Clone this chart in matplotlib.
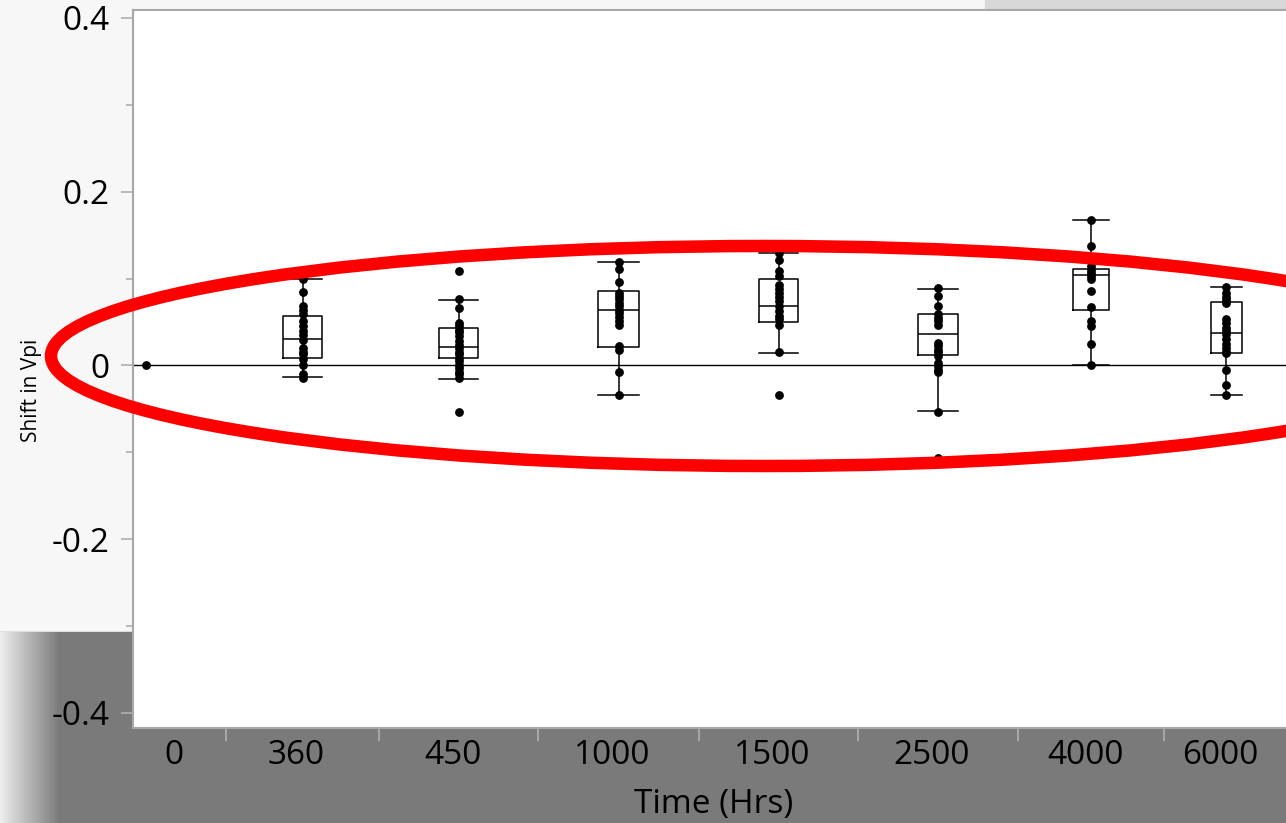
import numpy as np
import matplotlib
matplotlib.use("Agg")
import matplotlib.pyplot as plt
import matplotlib.transforms as mtrans
from matplotlib.patches import Ellipse, Rectangle

plt.rcParams['font.family'] = ['Open Sans', 'DejaVu Sans']

# data
times = ["0", "360", "450", "1000", "1500", "2500", "4000", "6000"]

pts_0 = [0.0]
pts_360 = [0.100, 0.085, 0.068, 0.064, 0.059, 0.051, 0.045, 0.040, 0.035, 0.029,
           0.020, 0.016, 0.013, 0.007, 0.001, -0.010, -0.014]
pts_450 = [0.1085, 0.076, 0.066, 0.049, 0.045, 0.041, 0.038, 0.034, 0.028, 0.024,
           0.020, 0.016, 0.013, 0.009, 0.005, 0.001, -0.003, -0.007, -0.010, -0.014, -0.053]
pts_1000 = [0.119, 0.111, 0.096, 0.084, 0.080, 0.076, 0.072, 0.068, 0.064, 0.060,
            0.056, 0.051, 0.047, 0.022, 0.018, -0.008, -0.0345]
pts_1500 = [0.129, 0.121, 0.1085, 0.1035, 0.093, 0.088, 0.084, 0.079, 0.074, 0.069,
            0.0625, 0.0575, 0.053, 0.047, 0.015, -0.0345]
pts_2500 = [0.089, 0.080, 0.068, 0.059, 0.055, 0.051, 0.047, 0.026, 0.022, 0.018,
            0.015, 0.011, 0.003, -0.001, -0.005, -0.008, -0.053, -0.107]
pts_4000 = [0.168, 0.137, 0.114, 0.110, 0.107, 0.103, 0.099, 0.0855, 0.0675, 0.051,
            0.046, 0.025, 0.001]
pts_6000 = [0.0905, 0.084, 0.079, 0.075, 0.072, 0.054, 0.049, 0.043, 0.0395, 0.0357,
            0.031, 0.025, 0.020, 0.015, 0.014, -0.0054, -0.022, -0.034]
points = [pts_0, pts_360, pts_450, pts_1000, pts_1500, pts_2500, pts_4000, pts_6000]

# box stats for groups 360..6000
q1 = [0.009, 0.009, 0.0215, 0.050, 0.0115, 0.0644, 0.0146]
med = [0.030, 0.0215, 0.064, 0.069, 0.0357, 0.1047, 0.0376]
q3 = [0.057, 0.043, 0.0855, 0.0997, 0.0587, 0.1116, 0.073]
wlo = [-0.0135, -0.015, -0.0345, 0.0146, -0.0526, 0.001, -0.0345]
whi = [0.100, 0.075, 0.119, 0.129, 0.0886, 0.168, 0.090]

# layout: category widths in pixels (JMP varies them)
seg_w = np.array([93, 153, 159, 161, 159, 160, 146, 124])
edges = np.concatenate([[0], np.cumsum(seg_w)])
centers = (edges[:-1] + edges[1:]) / 2

W, H = 1286, 823
fig = plt.figure(figsize=(W / 100, H / 100), dpi=100)

# background pieces of the screenshot
bg = fig.add_axes([0, 0, 1, 1], zorder=-5)
bg.set_xlim(0, W)
bg.set_ylim(H, 0)
bg.axis("off")
bg.add_patch(Rectangle((0, 0), W, H, color="#f7f7f7"))
bg.add_patch(Rectangle((0, 632), W, H - 632, color="#7a7a7a"))
grad = np.linspace(0.93, 0.48, 60)[None, :]
bg.imshow(np.repeat(grad[..., None], 3, axis=2), extent=(0, 60, H, 632), aspect="auto", zorder=2)
bg.add_patch(Rectangle((985, 0), W - 985, 10, color="#d8d8d8"))

ax = fig.add_axes([133 / W, (H - 728) / H, (W - 133) / W, (728 - 10) / H])
ax.set_facecolor("white")
ax.set_xlim(0, W - 133)
ax.set_ylim(-0.4173, 0.4092)

ax.axhline(0, color="black", lw=1.0, zorder=1)

stats = []
for i in range(len(q1)):
    stats.append(dict(q1=q1[i], med=med[i], q3=q3[i], whislo=wlo[i], whishi=whi[i]))
bw = 0.25 * seg_w[1:]
ax.bxp(stats, positions=centers[1:], widths=bw, capwidths=bw, showfliers=False,
       manage_ticks=False,
       boxprops=dict(color="black", lw=1.1),
       medianprops=dict(color="black", lw=1.1),
       whiskerprops=dict(color="black", lw=1.1),
       capprops=dict(color="black", lw=1.1))

for i, p in enumerate(points):
    x = centers[i] if i > 0 else edges[0] + 13
    ax.scatter([x] * len(p), p, s=40, color="black", zorder=3, linewidths=0)

ax.set_xticks(centers)
ax.set_xticklabels(times)
ax.set_xticks(edges[1:-1], minor=True)
ax.tick_params(axis="x", which="major", length=0, labelsize=24, pad=8)
ax.tick_params(axis="x", which="minor", length=9, color="#b0b0b0", width=1.2)
shift = mtrans.ScaledTranslation(-6 / 100, 0, fig.dpi_scale_trans)
for lab in ax.get_xticklabels():
    lab.set_transform(lab.get_transform() + shift)
ax.set_yticks([-0.4, -0.2, 0, 0.2, 0.4])
ax.set_yticklabels(["-0.4", "-0.2", "0", "0.2", "0.4"])
ax.set_yticks([-0.3, -0.1, 0.1, 0.3], minor=True)
ax.tick_params(axis="y", which="major", length=9, color="#b0b0b0", width=1.2, labelsize=24, pad=8)
ax.tick_params(axis="y", which="minor", length=5, color="#b0b0b0", width=1.2)
for s in ["left", "bottom", "top"]:
    ax.spines[s].set_color("#a8a8a8")
    ax.spines[s].set_linewidth(1.5)
ax.spines["right"].set_visible(False)

fig.text(714 / W, 1 - 804 / H, "Time (Hrs)", ha="center", va="center", fontsize=24)
fig.text(32 / W, 1 - 390 / H, "Shift in Vpi", ha="center", va="center", rotation=90, fontsize=15)

# red annotation ellipse on top
ov = fig.add_axes([0, 0, 1, 1], zorder=10)
ov.set_xlim(0, W)
ov.set_ylim(H, 0)
ov.axis("off")
ov.add_patch(Ellipse((764, 356), 2 * 713, 220, fill=False, edgecolor="#ff0000", lw=9))

fig.savefig("out.png", dpi=100)
